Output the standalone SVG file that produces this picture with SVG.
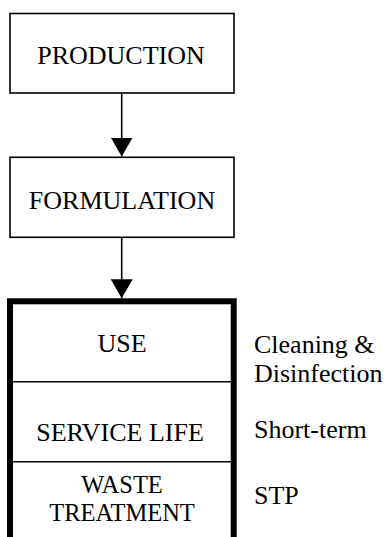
<svg xmlns="http://www.w3.org/2000/svg" width="386" height="537" viewBox="0 0 386 537">
<style>
text{font-family:"Liberation Serif","Times New Roman",serif;font-size:26px;fill:#000}
.c{text-anchor:middle}
.tight{font-size:24.5px}
.box{fill:#fff;stroke:#000;stroke-width:1.6}
.thick{fill:#fff;stroke:#000;stroke-width:6}
.div{stroke:#000;stroke-width:1.6}
.edge{stroke:#000;stroke-width:1.6;fill:none}
</style>
<defs>
<marker id="ah" markerUnits="userSpaceOnUse" markerWidth="20" markerHeight="24" refX="19" refY="11" orient="auto">
<path d="M0,0 L19,11 L0,22 z" fill="#000"/>
</marker>
</defs>
<rect width="386" height="537" fill="#fff"/>
<g id="production">
<rect class="box" x="10" y="13.5" width="224" height="79.5"/>
<text class="c" x="121" y="64">PRODUCTION</text>
</g>
<g id="formulation">
<rect class="box" x="10" y="157.3" width="224" height="80"/>
<text class="c" x="122" y="208.5">FORMULATION</text>
</g>
<g id="lifecycle">
<rect class="thick" x="10" y="301.3" width="223.7" height="260"/>
</g>
<g id="use">
<text class="c" x="122" y="352.3">USE</text>
<text x="254" y="352.5">Cleaning &amp;</text>
<text x="254" y="381.5">Disinfection</text>
</g>
<g id="service-life">
<line class="div" x1="13" y1="381.7" x2="231" y2="381.7"/>
<text class="c" x="120" y="441">SERVICE LIFE</text>
<text x="254" y="437.5">Short-term</text>
</g>
<g id="waste-treatment">
<line class="div" x1="13" y1="461.7" x2="231" y2="461.7"/>
<text class="c tight" x="122" y="492.5">WASTE</text>
<text class="c tight" x="122" y="521">TREATMENT</text>
<text x="254" y="504.3">STP</text>
</g>
<g id="connectors">
<line class="edge" x1="121.7" y1="93.3" x2="121.7" y2="156.5" marker-end="url(#ah)"/>
<line class="edge" x1="121.7" y1="237.3" x2="121.7" y2="298.3" marker-end="url(#ah)"/>
</g>
</svg>
